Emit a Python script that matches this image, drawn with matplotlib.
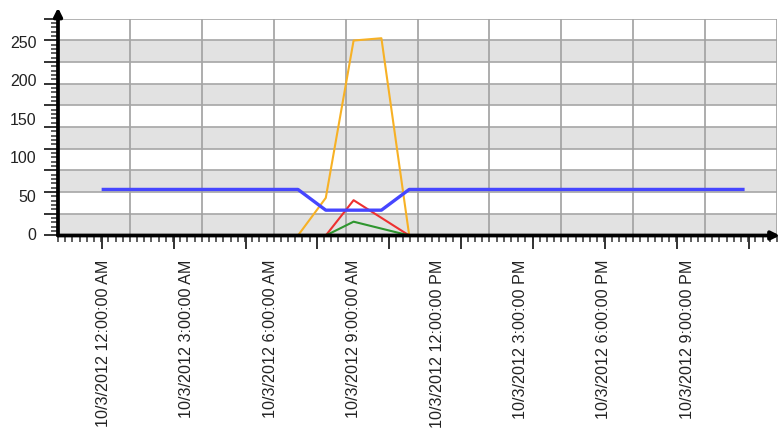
import matplotlib
matplotlib.use("Agg")
import matplotlib.pyplot as plt
import matplotlib.transforms as mtransforms

plt.rcParams['font.family'] = ['Liberation Sans', 'DejaVu Sans']

# hourly readings on 10/3/2012 (hour of day)
hours = [0, 1, 2, 3, 4, 5, 6, 7, 8, 9, 10, 11,
         12, 13, 14, 15, 16, 17, 18, 19, 20, 21, 22, 23]
blue = [60, 60, 60, 60, 60, 60, 60, 60, 33, 33, 33, 60,
        60, 60, 60, 60, 60, 60, 60, 60, 60, 60, 60, 60]
orange_hours = [7, 8, 9, 10, 11]
orange = [0, 49, 254, 257, 0]
red_hours = [8, 9, 10, 11]
red = [0, 46, 23, 0]
green_hours = [8, 9, 10, 11]
green = [0, 18, 9, 0]

label_hours = [0, 3, 6, 9, 12, 15, 18, 21]
x_labels = ["10/3/2012 12:00:00 AM", "10/3/2012 3:00:00 AM", "10/3/2012 6:00:00 AM",
            "10/3/2012 9:00:00 AM", "10/3/2012 12:00:00 PM", "10/3/2012 3:00:00 PM",
            "10/3/2012 6:00:00 PM", "10/3/2012 9:00:00 PM"]
y_labels = [0, 50, 100, 150, 200, 250]

fig = plt.figure(figsize=(7.79, 4.32), dpi=100)
ax = fig.add_axes([58 / 779, 1 - 235.5 / 432, 719 / 779, 217 / 432])

xmin, xmax = -1.629, 24.225
ymax = max(orange) * 1.1
ax.set_xlim(xmin, xmax)
ax.set_ylim(0, ymax)

# 10 equal bands each way
xband = (xmax - xmin) / 10
yband = ymax / 10
for i in range(10):
    if i % 2 == 0:
        ax.axhspan(i * yband, (i + 1) * yband, color='#e2e2e2', lw=0, zorder=0)
for i in range(1, 11):
    ax.axhline(i * yband, color='#a6a6a6', lw=1.2, zorder=1)
    ax.axvline(xmin + i * xband, color='#a0a0a0', lw=1.2, zorder=1)

ax.plot(orange_hours, orange, color='#f7b125', lw=1.5, zorder=3)
ax.plot(red_hours, red, color='#ee3030', lw=1.5, zorder=3)
ax.plot(green_hours, green, color='#2f962f', lw=1.5, zorder=3)
ax.plot(hours, blue, color='#4646ff', lw=2.4, zorder=4)

for s in ax.spines.values():
    s.set_visible(False)

# axis lines with arrow heads
arrow = dict(arrowstyle='-|>', lw=2.7, color='black', shrinkA=0, shrinkB=0,
             mutation_scale=12)
ax.annotate('', xy=(0, 1.05), xytext=(0, 0), xycoords='axes fraction',
            arrowprops=arrow, annotation_clip=False, zorder=6)
ax.annotate('', xy=(1.004, 0), xytext=(0, 0), xycoords='axes fraction',
            arrowprops=arrow, annotation_clip=False, zorder=6)

# ticks
ax.set_yticks([i * yband for i in range(11)])
ax.set_yticks([i * yband / 5 for i in range(51)], minor=True)
ax.set_xticks([xmin + (k + 0.608) * xband for k in range(10)])
ax.set_xticks([xmin + k * xband / 10 for k in range(101)], minor=True)
ax.tick_params(axis='both', which='major', length=10, width=1.3, color='#222222',
               labelleft=False, labelbottom=False)
ax.tick_params(axis='both', which='minor', length=5, width=1.1, color='#333333')

ytr = mtransforms.blended_transform_factory(ax.transAxes, ax.transData)
for v in y_labels:
    ax.text(-0.03, v, str(v), transform=ytr, ha='right', va='center',
            fontsize=11.5, color='#222222')

xtr = mtransforms.blended_transform_factory(ax.transData, ax.transAxes)
for h, lab in zip(label_hours, x_labels):
    ax.text(h, -0.11, lab, transform=xtr, rotation=90, ha='center', va='top',
            fontsize=11.6, color='#222222')

fig.savefig('out.png', dpi=100)
